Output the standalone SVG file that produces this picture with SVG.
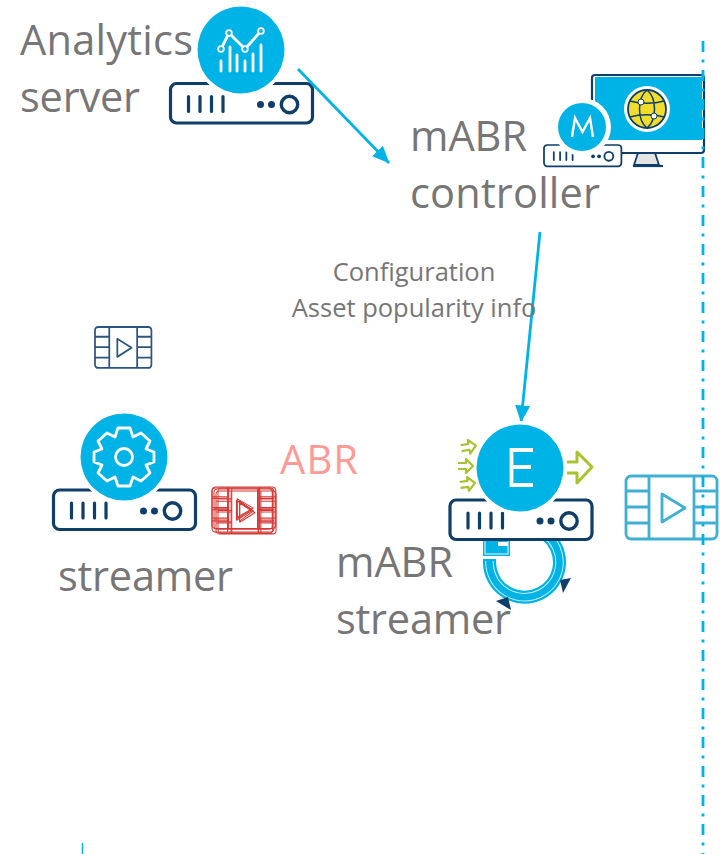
<svg xmlns="http://www.w3.org/2000/svg" width="720" height="854" viewBox="0 0 720 854">
<style>
text{font-family:"Open Sans","Noto Sans",sans-serif;fill:#767676}
.lg{font-size:41.5px}
.sm{font-size:25.5px;text-anchor:middle}
.conn{stroke:#00b3e6;stroke-width:2.8;fill:none}
.disc{fill:#00b3e6}
.line{stroke:#fff;stroke-width:2.8;fill:none;stroke-linecap:round;stroke-linejoin:round}
.node{fill:#00b3e6;stroke:#fff;stroke-width:1.8}
</style>
<defs>
<marker id="arr" viewBox="0 0 17 15" refX="16.5" refY="7.500" markerWidth="17" markerHeight="15" orient="auto" markerUnits="userSpaceOnUse"><path d="M0 0L17 7.500L0 15Z" fill="#00b3e6"/></marker>
<g id="server">
<rect x="0" y="0" width="142" height="39.500" rx="6" fill="#fff" stroke="#0f3e68" stroke-width="3.200"/>
<path d="M18 13V28M29.500 13V28M41 13V28M52.500 13V28" stroke="#0f3e68" stroke-width="3.200" stroke-linecap="round"/>
<circle cx="90" cy="21" r="3.500" fill="#0f3e68"/><circle cx="101" cy="21" r="3.500" fill="#0f3e68"/>
<circle cx="119" cy="21" r="8.200" fill="none" stroke="#0f3e68" stroke-width="3.400"/>
</g>
<g id="film" fill="none" stroke-linejoin="round">
<rect x="0" y="0" width="91" height="63" rx="5"/>
<path d="M23 0V63M68 0V63M0 15H23M0 31H23M0 47H23M68 15H91M68 31H91M68 47H91M36 18V46L59 32Z"/>
</g>
<path id="chev" d="M-7 -3H1V-7L8 0L1 7V3H-7" fill="none" stroke="#a9c32f" stroke-width="2.200" stroke-linejoin="round"/>
</defs>

<g id="analytics-server">
<use href="#server" x="170.500" y="83.500"/>
<circle cx="241" cy="50" r="47" fill="#fff"/>
<circle class="disc" cx="241" cy="50" r="43.500"/>
<path class="line" d="M221 49L229 33L245 49L260 32"/>
<circle class="node" cx="221" cy="49" r="2.800"/><circle class="node" cx="229" cy="33" r="2.800"/><circle class="node" cx="245" cy="49" r="2.800"/><circle class="node" cx="261" cy="31" r="2.800"/>
<path class="line" d="M221 61V71M230 47V71M237 55V71M245 61V71M253 54V71M261 45V71" stroke-width="2.400"/>
<text class="lg" x="20" y="55" textLength="173">Analytics</text>
<text class="lg" x="20" y="112" textLength="120">server</text>
</g>

<g id="mabr-controller">
<rect x="592" y="75" width="112" height="78" rx="3" fill="#fff" stroke="#0f3e68" stroke-width="2.200"/>
<rect x="595" y="77" width="107" height="63" fill="#00b3e6"/>
<path d="M638 153L634 165H659L655 153Z" fill="#e4e4e4" stroke="#0f3e68" stroke-width="1.800"/>
<path d="M633 166H663" stroke="#0f3e68" stroke-width="2.200"/>
<circle cx="647" cy="109" r="23" fill="#fff"/>
<circle cx="647" cy="109" r="19" fill="#f2dc2c" stroke="#0f3e68" stroke-width="1.800"/>
<path d="M647 90C637 98 637 120 647 128C657 120 657 98 647 90M630 101C640 104 654 104 664 101M630 117C640 114 654 114 664 117" fill="none" stroke="#0f3e68" stroke-width="1.500"/>
<circle cx="641" cy="102" r="3" fill="#fff" stroke="#0f3e68"/><circle cx="654" cy="116" r="3" fill="#fff" stroke="#0f3e68"/>
<use href="#server" transform="translate(544 145) scale(.545 .54)"/>
<circle cx="582" cy="127" r="29" fill="#fff"/>
<circle class="disc" cx="582" cy="127" r="24"/>
<path d="M572 137L575 118L582.500 132L590 118L593 137" fill="none" stroke="#fff" stroke-width="2.400"/>
<text class="lg" x="410" y="151" textLength="117">mABR</text>
<text class="lg" x="410" y="208" textLength="190">controller</text>
</g>

<g id="connectors">
<path class="conn" d="M298 69L389 163" marker-end="url(#arr)"/>
<path class="conn" d="M540 232L521 422" marker-end="url(#arr)"/>
</g>
<g id="config-label">
<text class="sm" x="414" y="281">Configuration</text>
<text class="sm" x="414" y="317">Asset popularity info</text>
</g>

<g id="asset-small"><use href="#film" transform="translate(95 327) scale(.62 .65)" stroke="#2a5580" stroke-width="2.800"/></g>

<g id="streamer">
<use href="#server" x="53.500" y="490"/>
<circle cx="124" cy="457" r="47" fill="#fff"/>
<circle class="disc" cx="124" cy="457" r="43.500"/>
<path class="line" d="M118 428L130 428L133 437L141 433L150 441L146 449L154 452L154 462L146 465L150 473L141 481L133 477L130 486L118 486L115 477L107 481L98 473L102 465L94 462L94 452L102 449L98 441L107 433L115 437Z"/>
<circle cx="124" cy="457" r="8.500" fill="none" stroke="#fff" stroke-width="2.800"/>
<text class="lg" x="58" y="591" textLength="175">streamer</text>
</g>

<g id="abr-asset" stroke="#d63a36" stroke-width="1.600">
<use href="#film" transform="translate(212 487) scale(.7 .66)"/>
<use href="#film" transform="translate(216 491) scale(.66 .68)"/>
<use href="#film" transform="translate(214 489) scale(.64 .64)"/>
<use href="#film" transform="translate(218 488) scale(.6 .72)"/>
<use href="#film" transform="translate(212 488) scale(.68 .7)"/>
</g>
<text id="abr-label" x="280" y="474" font-size="40" style="fill:#ff9a96" textLength="78">ABR</text>

<g id="mabr-streamer">
<g fill="none">
<path d="M489.500 559V563A35 35 0 1 0 546.500 535" stroke="#00b3e6" stroke-width="13"/>
<path d="M489.500 561V563A35 35 0 1 0 546.500 535" stroke="#c8eefa" stroke-width="8.500"/>
<path d="M489.500 559V563A35 35 0 1 0 546.500 535" stroke="#00b3e6" stroke-width="6.500"/>
</g>
<rect x="483" y="536" width="27" height="20" fill="#00b3e6"/>
<rect x="485" y="536" width="23" height="18" fill="none" stroke="#c8eefa" stroke-width="1.200"/>
<rect x="498" y="542" width="10" height="4" fill="#fff"/>
<path d="M571 578L560 580L563 593Z" fill="#0f3e68"/>
<path d="M496 601L508 597L511 610Z" fill="#0f3e68"/>
<use href="#server" x="450" y="500"/>
<circle cx="520" cy="468" r="47" fill="#fff"/>
<circle class="disc" cx="520" cy="468" r="43.500"/>
<path d="M533 450H511.500V485H533M511.500 467H531" fill="none" stroke="#fff" stroke-width="3.800"/>
<use href="#chev" transform="translate(468 447) rotate(-10)"/>
<use href="#chev" transform="translate(465 466)"/>
<use href="#chev" transform="translate(467 484) rotate(-8)"/>
<path d="M567 462H577V452L592 467L577 483V473H567" fill="none" stroke="#a9c32f" stroke-width="3" stroke-linejoin="round"/>
<text class="lg" x="336" y="577" textLength="117">mABR</text>
<text class="lg" x="336" y="634" textLength="175">streamer</text>
</g>

<g id="asset-large"><use href="#film" x="626" y="476" stroke="#3fb0d4" stroke-width="2.800"/></g>

<g id="boundary"><path d="M703 41V854" stroke="#00b3e6" stroke-width="2.800" stroke-dasharray="11 7.500 3 7.500" fill="none"/><path d="M82.500 843V854" stroke="#00b3e6" stroke-width="1.500"/></g>
</svg>
